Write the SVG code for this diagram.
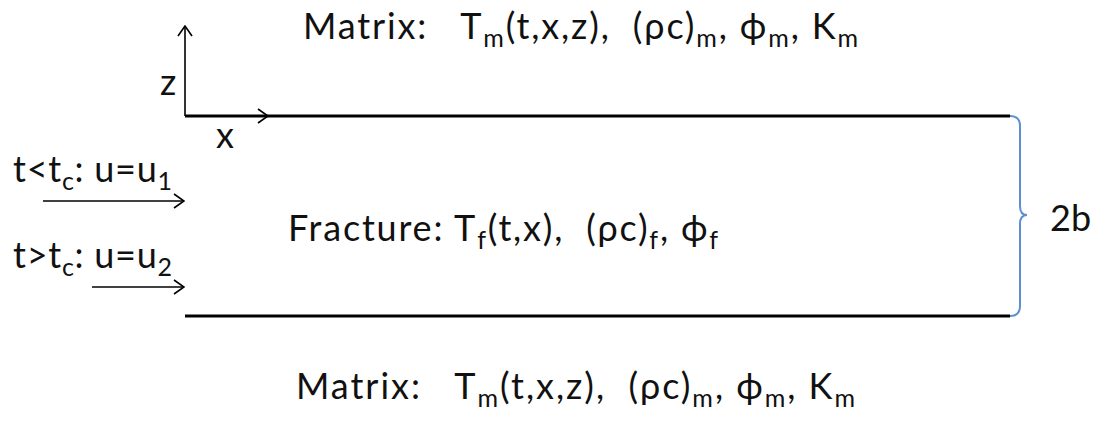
<svg xmlns="http://www.w3.org/2000/svg" width="1103" height="421" viewBox="0 0 1103 421">
<style>
.t{font-family:Lato,"Open Sans","Liberation Sans",sans-serif;font-size:36px;fill:#111;white-space:pre}
.s{font-size:25px}
.ln{stroke:#000;stroke-width:3;fill:none}
.ar{stroke:#000;stroke-width:1.6;fill:none}
</style>
<defs>
<marker id="chev" viewBox="0 0 12 16" refX="11" refY="8" markerWidth="12" markerHeight="16" markerUnits="userSpaceOnUse" orient="auto">
<path d="M1,1 L11,8 L1,15" fill="none" stroke="#000" stroke-width="1.6"/>
</marker>
</defs>
<rect width="1103" height="421" fill="#fff"/>
<g id="connectors">
<line class="ln" x1="185" y1="116" x2="1010" y2="116"/>
<line class="ln" x1="185" y1="316" x2="1010" y2="316"/>
<line class="ar" x1="185" y1="116" x2="185" y2="26" marker-end="url(#chev)"/>
<line class="ar" x1="185" y1="116" x2="268" y2="116" marker-end="url(#chev)"/>
<line class="ar" x1="43" y1="201" x2="184" y2="201" marker-end="url(#chev)"/>
<line class="ar" x1="92" y1="287" x2="184" y2="287" marker-end="url(#chev)"/>
<path d="M1010,116 Q1020,116 1020,126 L1020,206 Q1020,215 1027,215 Q1020,215 1020,224 L1020,306 Q1020,316 1010,316" fill="none" stroke="#5b8fd0" stroke-width="2"/>
</g>
<g id="axes-labels">
<text class="t" x="160" y="95">z</text>
<text class="t" x="216" y="148">x</text>
</g>
<g id="matrix-top">
<text class="t" x="303" y="39" textLength="555" lengthAdjust="spacing" xml:space="preserve">Matrix:   T<tspan class="s" dy="8">m</tspan><tspan dy="-8">(t,x,z),  (ρc)</tspan><tspan class="s" dy="8">m</tspan><tspan dy="-8">, ϕ</tspan><tspan class="s" dy="8">m</tspan><tspan dy="-8">, K</tspan><tspan class="s" dy="8">m</tspan></text>
</g>
<g id="fracture">
<text class="t" x="288" y="241" textLength="430" lengthAdjust="spacing" xml:space="preserve">Fracture: T<tspan class="s" dy="8">f</tspan><tspan dy="-8">(t,x),  (ρc)</tspan><tspan class="s" dy="8">f</tspan><tspan dy="-8">, ϕ</tspan><tspan class="s" dy="8">f</tspan></text>
</g>
<g id="matrix-bottom">
<text class="t" x="296" y="399" textLength="559" lengthAdjust="spacing" xml:space="preserve">Matrix:   T<tspan class="s" dy="8">m</tspan><tspan dy="-8">(t,x,z),  (ρc)</tspan><tspan class="s" dy="8">m</tspan><tspan dy="-8">, ϕ</tspan><tspan class="s" dy="8">m</tspan><tspan dy="-8">, K</tspan><tspan class="s" dy="8">m</tspan></text>
</g>
<g id="inflow1">
<text class="t" x="13" y="182" textLength="159" lengthAdjust="spacing">t&lt;t<tspan class="s" dy="8">c</tspan><tspan dy="-8">: u=u</tspan><tspan class="s" dy="8">1</tspan></text>
</g>
<g id="inflow2">
<text class="t" x="13" y="268" textLength="159" lengthAdjust="spacing">t&gt;t<tspan class="s" dy="8">c</tspan><tspan dy="-8">: u=u</tspan><tspan class="s" dy="8">2</tspan></text>
</g>
<g id="width-label">
<text class="t" x="1050" y="231">2b</text>
</g>
</svg>
